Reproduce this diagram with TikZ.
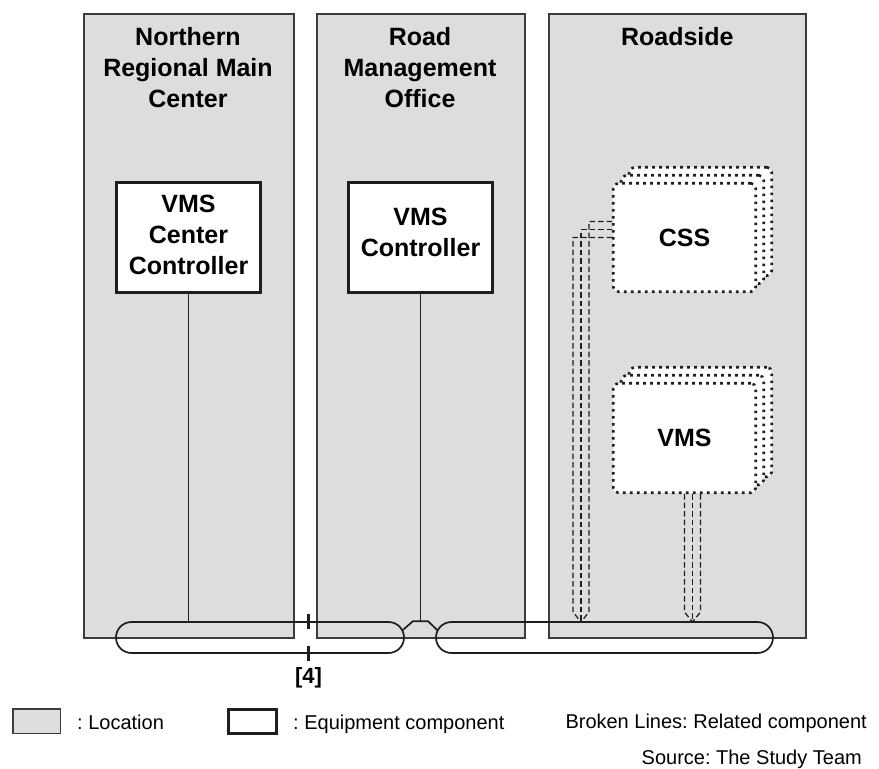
\documentclass[tikz,border=0pt]{standalone}
\usepackage{fontspec}
\setmainfont{Liberation Sans}
\usetikzlibrary{calc}
\frenchspacing
\definecolor{locfill}{RGB}{220,221,223}
\definecolor{edgegray}{RGB}{60,60,60}
\definecolor{ink}{RGB}{30,30,30}

\tikzset{
  panel/.style={draw=edgegray, line width=1.6pt, fill=locfill, inner sep=0pt, anchor=north west},
  equip/.style={draw=ink, line width=3.3pt, fill=white, inner sep=0pt,
                minimum width=144pt, minimum height=110pt},
  title/.style={font=\bfseries\fontsize{25}{31}\selectfont, align=center, inner sep=0pt, anchor=north},
  boxlabel/.style={font=\bfseries\fontsize{25}{31}\selectfont, align=center, inner sep=0pt},
  bus/.style={draw=ink, line width=1.7pt, rounded corners=15.5pt, inner sep=0pt, minimum height=31pt},
  busline/.style={draw=ink, line width=1.7pt},
  wire/.style={draw=ink, line width=1.3pt},
  related/.style={draw=ink, line width=2.6pt, dash pattern=on 2.6pt off 4.4pt, fill=white,
                  rounded corners=5pt, inner sep=0pt, minimum width=142.5pt},
  brokenwire/.style={draw=ink, line width=1.3pt, dash pattern=on 5.5pt off 3pt},
  cut/.style={draw=ink, line width=3pt},
  legendtext/.style={font=\fontsize{20}{24}\selectfont, inner sep=0pt, anchor=base west},
}

\begin{document}
\begin{tikzpicture}[x=1pt,y=-1pt]
\useasboundingbox (0,0) rectangle (879,769);

% locations
\node[panel, minimum width=210pt, minimum height=624pt] (p1) at (83,13) {};
\node[panel, minimum width=208pt, minimum height=624pt] (p2) at (316,13) {};
\node[panel, minimum width=257pt, minimum height=624pt] (p3) at (548,13) {};

\node[title] (t1) at (188,27) {Northern\\Regional Main\\Center};
\node[title] (t2) at (420,27) {Road\\Management\\Office};
\node[title] (t3) at (p3.north |- t1.north) {Roadside};

% equipment
\node[equip] (vcc) at (188.5,237.5) {};
\node[equip] (vc) at (420.5,237.5) {};
\node[boxlabel, anchor=north] (l1) at (188.5,195) {VMS\\Center\\Controller};
\node[boxlabel, anchor=north] (l2) at (420.5,208) {VMS\\Controller};

% communication buses
\node[bus, minimum width=288pt] (bus1) at (260,637.5) {};
\node[bus, minimum width=337pt] (bus2) at (604.5,637.5) {};

\draw[wire] (vcc.south) -- (vcc.south |- bus1.north);
\coordinate (jn) at (vc.south |- bus1.north);
\draw[wire] (vc.south) -- (jn);
\draw[busline] ($(bus1.east)+(-2,-7.5)$) -- ($(jn)+(-7.5,0)$) -- ($(jn)+(7.5,0)$) -- ($(bus2.west)+(2,-7.5)$);

\coordinate (cutT) at (308.5,621.5);
\coordinate (cutB) at (308.5,653.5);
\draw[cut] ($(cutT)+(0,-7.5)$) -- ($(cutT)+(0,7.5)$);
\draw[cut] ($(cutB)+(0,-7.5)$) -- ($(cutB)+(0,7.5)$);
\node[boxlabel, font=\bfseries\fontsize{22}{26}\selectfont] (ref4) at (308.5,678) {[4]};

% related component: CSS (three stacked units)
\node[related, minimum height=108.5pt] (cssC) at (700.5,221.5) {};
\node[related, minimum height=108.5pt] (cssB) at (692.5,229.5) {};
\coordinate (cssTap) at (581,622);
\draw[brokenwire] (612,221.5) -- (589,221.5) -- (589,612) -- (cssTap);
\draw[brokenwire] (612,229.5) -- (581,229.5) -- (cssTap);
\draw[brokenwire] (612,237.5) -- (573,237.5) -- (573,612) -- (cssTap);
\node[related, minimum height=108.5pt] (cssA) at (684.5,237.5) {};
\node[boxlabel] (csslabel) at (cssA) {CSS};

% related component: VMS (three stacked units)
\node[related, minimum height=109.5pt] (vmsC) at (700.5,422) {};
\node[related, minimum height=109.5pt] (vmsB) at (692.5,430) {};
\node[related, minimum height=109.5pt] (vmsA) at (684.5,438) {};
\node[boxlabel] (vmslabel) at (vmsA) {VMS};
\coordinate (vmsTap) at (692.5,622);
\draw[brokenwire] (vmsA.south) -- (684.5,612) -- (vmsTap);
\draw[brokenwire] ([xshift=8pt]vmsA.south) -- (vmsTap);
\draw[brokenwire] ([xshift=16pt]vmsA.south) -- (700.5,612) -- (vmsTap);

% legend
\node[draw=edgegray, line width=1.5pt, fill=locfill, minimum width=47.5pt, minimum height=24.5pt, inner sep=0pt] (legloc) at (36.5,721) {};
\node[legendtext] (legloctext) at (77,729) {: Location};
\node[draw=ink, line width=3.3pt, fill=white, minimum width=48pt, minimum height=24pt, inner sep=0pt] (legequip) at (252.5,721.5) {};
\node[legendtext] (legequiptext) at (293,729) {: Equipment component};
\node[legendtext, anchor=base east] (legbroken) at (867,728) {Broken Lines: Related component};
\node[legendtext, anchor=base east] (source) at (862,764) {Source: The Study Team};
\end{tikzpicture}
\end{document}
